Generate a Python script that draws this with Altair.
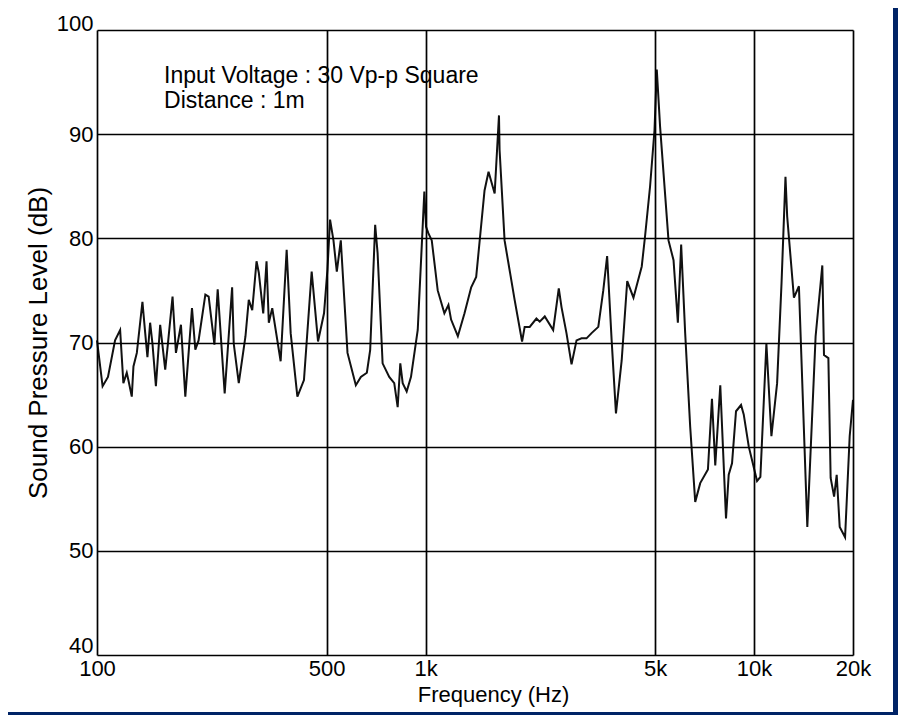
import altair as alt
import pandas as pd

# ---- data ----
freq = [100, 104, 108, 113.5, 117.6, 120.3, 123.2, 124.6, 127.6, 129.1,
        132.2, 137.5, 140.2, 142.4, 145.1, 147.5, 151.1, 155.7, 161.3, 164.4,
        169.8, 173.9, 180.1, 185.7, 194.6, 199.2, 203.8, 213.7, 218.7, 227.7,
        233.0, 244.7, 257.8, 260.7, 270.1, 283.1, 289.7, 296.8, 305.9, 310.8,
        320.6, 328.1, 333.4, 341.5, 362.2, 377.8, 388.6, 407.3, 426.5, 450.2,
        470.7, 490.9, 502.8, 512.1, 524.5, 536.9, 552.1, 578.7, 613.5, 635.5,
        662.8, 678.4, 697.7, 702.5, 714.5, 740.1, 775.3, 803.0, 822.5, 837.8,
        852.0, 876.2, 903.1, 946.7, 991.6, 1003.5, 1019.8, 1044.5, 1089, 1141,
        1174, 1196, 1254, 1314, 1377, 1426, 1512, 1555, 1623, 1673,
        1680, 1740, 1867, 1967, 2003, 2075, 2175, 2226, 2306, 2446,
        2544, 2593, 2685, 2782, 2881, 2984, 3090, 3201, 3356, 3475,
        3570, 3685, 3798, 3954, 4110, 4294, 4550, 4657, 4824, 4976,
        5056, 5175, 5489, 5686, 5861, 5998, 6169, 6390, 6619, 6855,
        7236, 7443, 7617, 7890, 8213, 8370, 8567, 8810, 9126, 9299,
        9634, 10210, 10450, 10900, 11290, 11750, 12120, 12460, 12610, 13220,
        13690, 14520, 15390, 16130, 16320, 16830, 17100, 17520, 17840, 18220,
        18920, 19540, 20000]

spl = [70.2, 65.8, 66.7, 70.2, 71.2, 66.1, 67.1, 66.4, 64.8, 67.7,
       69.0, 73.9, 70.9, 68.6, 71.9, 69.9, 65.8, 71.7, 67.4, 69.9,
       74.4, 69.0, 71.7, 64.8, 73.3, 69.3, 70.2, 74.6, 74.4, 69.8,
       75.1, 65.1, 75.3, 69.9, 66.1, 70.6, 74.1, 73.1, 77.8, 76.7,
       72.8, 77.8, 71.9, 73.3, 68.2, 78.9, 70.9, 64.8, 66.4, 76.8,
       70.1, 72.8, 77.0, 81.8, 79.8, 76.8, 79.8, 69.0, 65.9, 66.7,
       67.1, 69.3, 78.9, 81.3, 78.6, 68.0, 66.7, 66.1, 63.8, 68.0,
       66.1, 65.3, 66.7, 71.2, 84.5, 81.1, 80.5, 79.8, 75.0, 72.8,
       73.6, 72.2, 70.6, 72.8, 75.3, 76.3, 84.6, 86.4, 84.3, 91.8,
       88.5, 79.8, 74.1, 70.1, 71.5, 71.5, 72.3, 72.0, 72.5, 71.2,
       75.2, 73.4, 70.9, 67.9, 70.2, 70.4, 70.4, 70.9, 71.5, 75.0,
       78.3, 70.2, 63.2, 68.3, 75.9, 74.3, 77.3, 80.2, 85.0, 90.4,
       96.2, 90.7, 79.8, 77.9, 71.9, 79.4, 70.9, 61.9, 54.7, 56.5,
       57.8, 64.6, 58.2, 65.9, 53.1, 57.3, 58.4, 63.4, 64.0, 63.1,
       60.0, 56.7, 57.1, 69.9, 61.0, 66.1, 75.7, 85.9, 82.1, 74.3,
       75.4, 52.3, 70.6, 77.4, 68.8, 68.5, 57.0, 55.2, 57.3, 52.3,
       51.3, 61.0, 64.5]

note_lines = ["Input Voltage : 30 Vp-p Square", "Distance : 1m"]
note_freq = [160, 160]
note_db = [94.95, 92.5]

x_ticks = [100, 500, 1000, 5000, 10000, 20000]
x_tick_labels = ["100", "500", "1k", "5k", "10k", "20k"]
y_ticks = [40, 50, 60, 70, 80, 90, 100]

# ---- chart ----
W, H = 756, 625
FONT = "Liberation Sans"

df = pd.DataFrame({"f": freq, "db": spl})
notes = pd.DataFrame({"f": note_freq, "db": note_db, "t": note_lines})

label_map = "{" + ", ".join(f"'{v}': '{l}'" for v, l in zip(x_ticks, x_tick_labels)) + "}"

xscale = alt.Scale(type="log", domain=[100, 20000], nice=False)
yscale = alt.Scale(domain=[40, 100], nice=False, zero=False)

x_axis = alt.Axis(values=x_ticks, labelExpr=f"{label_map}[datum.value + '']",
                  grid=True, gridColor="black", gridWidth=1.7, gridOpacity=1,
                  domain=False, ticks=False, labelFlush=False, labelOverlap=False,
                  labelFontSize=22, labelPadding=3, labelColor="black",
                  title="Frequency (Hz)", titleFontSize=22, titleFontWeight="normal",
                  titleColor="black", titlePadding=5, titleX=396, titleAlign="center",
                  zindex=1)
y_axis = alt.Axis(values=y_ticks, grid=True, gridColor="black", gridWidth=1.7, gridOpacity=1,
                  domain=False, ticks=False, labelFlush=False, labelOverlap=False,
                  labelFontSize=22, labelPadding=4, labelColor="black",
                  labelBaseline={"condition": {"test": "datum.value == 40 || datum.value == 100",
                                               "value": "alphabetic"},
                                 "value": "middle"},
                  labelOffset={"condition": {"test": "datum.value == 40", "value": -3},
                               "value": 0},
                  title="Sound Pressure Level (dB)", titleFontSize=26,
                  titleFontWeight="normal", titleColor="black", titlePadding=5, zindex=1)

panel = alt.Chart(pd.DataFrame({"a": [0]})).mark_rect(color="white").encode(
    x=alt.value(-89), x2=alt.value(796), y=alt.value(-22), y2=alt.value(682)
)

line = alt.Chart(df).mark_line(color="#111111", strokeWidth=2).encode(
    x=alt.X("f:Q", scale=xscale, axis=x_axis),
    y=alt.Y("db:Q", scale=yscale, axis=y_axis),
)

text = alt.Chart(notes).mark_text(align="left", baseline="alphabetic", fontSize=23,
                                  font=FONT, color="black").encode(
    x=alt.X("f:Q", scale=xscale, axis=x_axis),
    y=alt.Y("db:Q", scale=yscale, axis=y_axis),
    text="t:N",
)

chart = alt.layer(panel, line, text).properties(
    width=W, height=H,
    background="#002366",
    padding={"left": 89, "top": 22, "right": 45, "bottom": 60},
    autosize=alt.AutoSizeParams(type="none"),
).configure_view(stroke=None).configure_axis(labelFont=FONT, titleFont=FONT)

chart.save("out.html", embed_options={"renderer": "svg", "actions": False})
